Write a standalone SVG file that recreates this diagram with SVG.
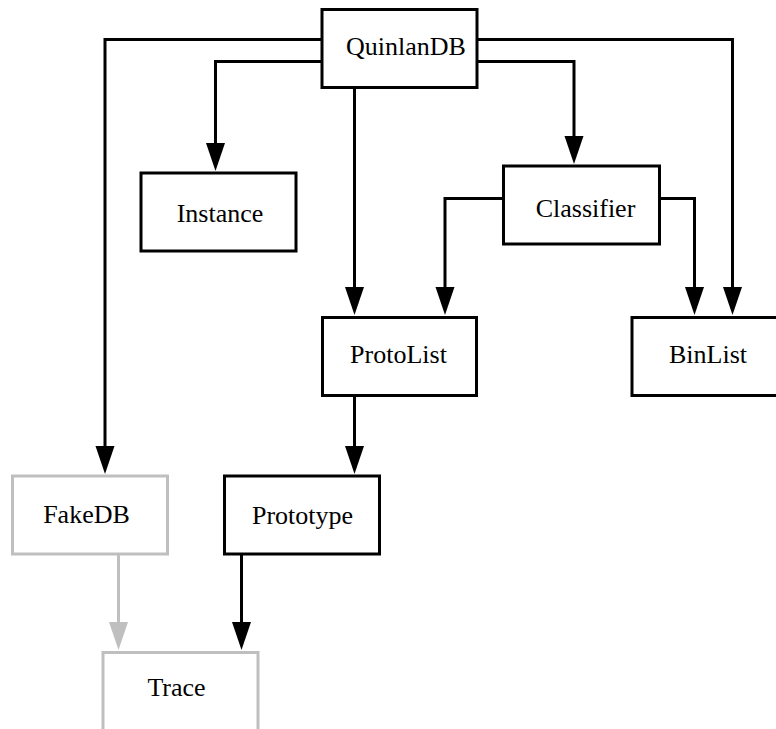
<svg xmlns="http://www.w3.org/2000/svg" width="776" height="729" viewBox="0 0 776 729">
<style>
.box{fill:#fff;stroke:#000;stroke-width:3}
.gbox{fill:#fff;stroke:#bfbfbf;stroke-width:3}
.lbl{font-family:"Liberation Serif","Times New Roman",serif;font-size:26px;fill:#000;text-anchor:middle}
.e{fill:none;stroke:#000;stroke-width:3;marker-end:url(#ah)}
.ge{fill:none;stroke:#bfbfbf;stroke-width:3;marker-end:url(#gah)}
</style>
<defs>
<marker id="ah" markerUnits="userSpaceOnUse" viewBox="0 -10 30 20" refX="0" refY="0" markerWidth="30" markerHeight="20" orient="auto" overflow="visible">
<path d="M0,-9.5 L28,0 L0,9.5 Z" fill="#000"/>
</marker>
<marker id="gah" markerUnits="userSpaceOnUse" viewBox="0 -10 30 20" refX="0" refY="0" markerWidth="30" markerHeight="20" orient="auto" overflow="visible">
<path d="M0,-9.5 L28,0 L0,9.5 Z" fill="#bfbfbf"/>
</marker>
</defs>
<g id="connectors">
<path class="e" d="M322,39.5 H105 V446"/>
<path class="e" d="M322,61.5 H215.5 V143"/>
<path class="e" d="M354.5,87 V287"/>
<path class="e" d="M477,61.5 H574 V136"/>
<path class="e" d="M477,39.5 H732.5 V287"/>
<path class="e" d="M503.5,198.5 H445 V287"/>
<path class="e" d="M659.5,198.5 H694.5 V287"/>
<path class="e" d="M354.5,395.5 V446"/>
<path class="ge" d="M118.5,554 V622"/>
<path class="e" d="M241.5,554 V622"/>
</g>
<g id="QuinlanDB"><rect class="box" x="322" y="9.5" width="155" height="78"/><text class="lbl" x="406" y="55">QuinlanDB</text></g>
<g id="Instance"><rect class="box" x="141" y="173" width="155" height="78"/><text class="lbl" x="220" y="221.5">Instance</text></g>
<g id="Classifier"><rect class="box" x="503.5" y="166" width="156" height="78"/><text class="lbl" x="585.5" y="216.5">Classifier</text></g>
<g id="ProtoList"><rect class="box" x="322.5" y="317.5" width="154" height="78"/><text class="lbl" x="398.5" y="362.5">ProtoList</text></g>
<g id="BinList"><rect class="box" x="632" y="317.5" width="155" height="78"/><text class="lbl" x="708" y="362.5">BinList</text></g>
<g id="FakeDB"><rect class="gbox" x="12.5" y="476" width="155" height="78"/><text class="lbl" x="86.5" y="522.5">FakeDB</text></g>
<g id="Prototype"><rect class="box" x="224.5" y="476" width="155" height="78"/><text class="lbl" x="302.5" y="524">Prototype</text></g>
<g id="Trace"><rect class="gbox" x="103" y="652.5" width="155" height="78"/><text class="lbl" x="176.5" y="696">Trace</text></g>
</svg>
